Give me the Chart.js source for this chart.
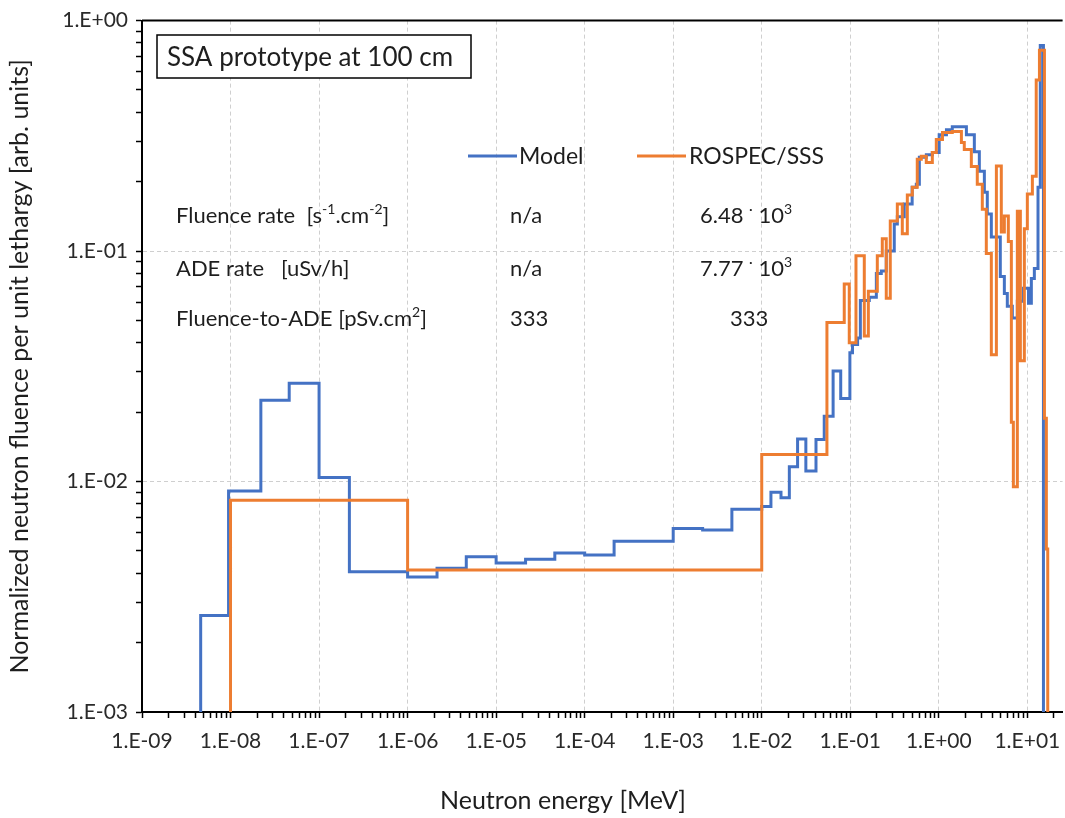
<!DOCTYPE html>
<html>
<head>
<meta charset="utf-8">
<script src="https://cdn.jsdelivr.net/npm/chart.js@4/dist/chart.umd.min.js"></script>
<style>
  html, body { margin: 0; padding: 0; background: #fff; }
  #wrap { width: 1065px; height: 818px; }
</style>
</head>
<body>
<div id="wrap"><canvas id="chart" width="1065" height="818"></canvas></div>
<script>
// Model: bin edges (MeV) and fluence per unit lethargy, one value per bin
const modelEdges = [
  4.6e-9, 9.5e-9, 2.2e-8, 4.6e-8, 1.0e-7, 2.2e-7, 1.0e-6, 2.15e-6, 4.6e-6, 1.0e-5,
  2.15e-5, 4.6e-5, 1.0e-4, 2.15e-4, 1.0e-3, 2.15e-3, 4.6e-3, 1.0e-2, 1.27e-2, 1.65e-2,
  2.05e-2, 2.54e-2, 3.15e-2, 4.1e-2, 5.08e-2, 6.4e-2, 7.8e-2, 9.9e-2, 0.106, 0.121,
  0.13, 0.164, 0.197, 0.224, 0.255, 0.314, 0.34, 0.407, 0.5, 0.557,
  0.603, 0.723, 0.845, 1.01, 1.22, 1.42, 2.05, 2.52, 2.87, 3.27,
  3.53, 3.92, 4.95, 5.5, 5.94, 6.77, 7.71, 9.0, 10.3, 11.1,
  12.0, 13.2, 14.0, 15.2
];
const modelValues = [
  2.62e-3, 9.1e-3, 2.25e-2, 2.67e-2, 1.04e-2, 4.06e-3, 3.85e-3, 4.2e-3, 4.72e-3, 4.43e-3,
  4.6e-3, 4.9e-3, 4.8e-3, 5.5e-3, 6.25e-3, 6.16e-3, 7.59e-3, 7.8e-3, 8.98e-3, 8.5e-3,
  1.16e-2, 1.53e-2, 1.11e-2, 1.52e-2, 1.92e-2, 3.02e-2, 2.29e-2, 3.62e-2, 3.93e-2, 4.2e-2,
  6.1e-2, 6.3e-2, 8.0e-2, 8.2e-2, 0.10, 0.131, 0.141, 0.16, 0.189, 0.195,
  0.255, 0.262, 0.268, 0.32, 0.336, 0.346, 0.32, 0.27, 0.222, 0.18,
  0.145, 0.115, 0.0776, 0.0655, 0.0576, 0.0512, 0.0606, 0.0689, 0.0594, 0.076,
  0.084, 0.189, 0.78
];

// ROSPEC/SSS: bin edges (MeV) and values
const rospecEdges = [
  1.0e-8, 1.0e-6, 1.0e-2, 5.45e-2, 0.0855, 0.0974, 0.116, 0.144, 0.160, 0.202,
  0.230, 0.255, 0.283, 0.340, 0.387, 0.441, 0.502, 0.571, 0.634, 0.722,
  0.845, 0.937, 1.10, 1.42, 1.80, 1.94, 2.33, 2.72, 3.10, 3.44,
  3.92, 4.47, 5.08, 5.50, 6.10, 6.60, 6.95, 7.71, 8.34, 9.25,
  10.0, 11.4, 12.6, 13.7, 15.6, 16.4, 17.0
];
const rospecValues = [
  8.3e-3, 4.13e-3, 1.31e-2, 4.9e-2, 7.2e-2, 4.0e-2, 9.55e-2, 4.28e-2, 6.69e-2, 9.55e-2,
  0.113, 0.0624, 0.135, 0.16, 0.119, 0.175, 0.189, 0.25, 0.258, 0.242,
  0.268, 0.305, 0.327, 0.33, 0.296, 0.276, 0.233, 0.195, 0.152, 0.0975,
  0.0355, 0.234, 0.121, 0.142, 0.11, 0.0181, 9.5e-3, 0.149, 0.0334, 0.125,
  0.177, 0.211, 0.552, 0.743, 0.0188, 5.1e-3
];

const xDecades = [-9, -8, -7, -6, -5, -4, -3, -2, -1, 0, 1];
const yDecades = [-3, -2, -1, 0];
const X_MIN = 1e-9, X_MAX = 25;
const Y_MIN = 1e-3, Y_MAX = 1;
const FLOOR = 1e-4; // under the axis: the histograms start and end off-chart

const FONT = 'Lato';
const BLUE = '#4472C4';
const ORANGE = '#ED7D31';
const INK = '#1e1e1e';

// histogram -> points for a 'before' stepped line
function stepPoints(edges, values) {
  const pts = [{ x: edges[0], y: FLOOR }];
  values.forEach((v, i) => pts.push({ x: edges[i], y: v }));
  pts.push({ x: edges[edges.length - 1], y: FLOOR });
  return pts;
}

function isDecade(v) {
  const l = Math.log10(v);
  return Math.abs(l - Math.round(l)) < 1e-6;
}

function fmtSci(v) {
  const e = Math.round(Math.log10(v));
  return '1.E' + (e < 0 ? '-' : '+') + String(Math.abs(e)).padStart(2, '0');
}

// 1..9 per decade, like the Excel axis
function decadeTicks(decades, max) {
  const out = [];
  decades.forEach(e => {
    for (let m = 1; m <= 9; m++) {
      const v = m * Math.pow(10, e);
      if (v <= max * 1.000001) out.push({ value: v });
    }
  });
  return out;
}

function axisOpts(decades, max) {
  return {
    type: 'logarithmic',
    afterBuildTicks: s => { s.ticks = decadeTicks(decades, max); },
    ticks: {
      autoSkip: false, maxRotation: 0, minRotation: 0,
      color: '#2a2a2a',
      font: { family: FONT, size: 21 },
      callback: v => isDecade(v) ? fmtSci(v) : ''
    },
    grid: {
      color: c => (c.tick && isDecade(c.tick.value)) ? '#cfcfcf' : 'rgba(0,0,0,0)',
      lineWidth: 1,
      tickColor: '#000',
      tickLength: 6,
      tickWidth: 1.5
    },
    border: { display: true, color: '#000', width: 2, dash: [4, 3] }
  };
}

// draws a run of text pieces, [text, raised?]
function rich(c, parts, x, y, size) {
  let cx = x;
  parts.forEach(([t, sup]) => {
    c.font = (sup ? Math.round(size * 0.62) : size) + 'px ' + FONT;
    c.fillText(t, cx, sup ? y - size * 0.4 : y);
    cx += c.measureText(t).width;
  });
}

const annotate = {
  id: 'annotate',
  afterDraw(chart) {
    const c = chart.ctx;
    const a = chart.chartArea;
    c.save();
    // top edge of the plot frame
    c.strokeStyle = '#000';
    c.lineWidth = 2;
    c.beginPath();
    c.moveTo(a.left, a.top);
    c.lineTo(a.right, a.top);
    c.stroke();

    // label box
    c.fillStyle = '#fff';
    c.fillRect(157, 35, 314, 43);
    c.lineWidth = 1.5;
    c.strokeRect(157, 35, 314, 43);
    c.fillStyle = INK;
    c.textBaseline = 'alphabetic';
    c.font = '26px ' + FONT;
    c.fillText('SSA prototype at 100 cm', 167, 66);

    // legend
    c.lineWidth = 3;
    c.strokeStyle = BLUE;
    c.beginPath(); c.moveTo(468, 156); c.lineTo(517, 156); c.stroke();
    c.strokeStyle = ORANGE;
    c.beginPath(); c.moveTo(637, 156); c.lineTo(686, 156); c.stroke();
    c.font = '23px ' + FONT;
    c.fillText('Model', 519, 164);
    c.fillText('ROSPEC/SSS', 689, 164);

    // numbers table
    const fs = 22;
    rich(c, [['Fluence rate  [s'], ['-1', true], ['.cm'], ['-2', true], [']']], 176, 223, fs);
    rich(c, [['n/a']], 510, 223, fs);
    rich(c, [['6.48 '], ['\u00B7', true], [' 10'], ['3', true]], 700, 223, fs);

    rich(c, [['ADE rate   [uSv/h]']], 176, 276, fs);
    rich(c, [['n/a']], 510, 276, fs);
    rich(c, [['7.77 '], ['\u00B7', true], [' 10'], ['3', true]], 700, 276, fs);

    rich(c, [['Fluence-to-ADE [pSv.cm'], ['2', true], [']']], 176, 326, fs);
    rich(c, [['333']], 510, 326, fs);
    rich(c, [['333']], 730, 326, fs);

    // x axis title
    c.font = '25px ' + FONT;
    c.textAlign = 'center';
    c.fillStyle = INK;
    c.fillText('Neutron energy [MeV]', 563, 809);
    c.restore();
  }
};

const xAxis = axisOpts(xDecades, X_MAX);
xAxis.min = X_MIN;
xAxis.max = X_MAX;
xAxis.position = 'bottom';
xAxis.ticks.padding = 11;
xAxis.afterFit = s => { s.height = 106; };

const yAxis = axisOpts(yDecades, Y_MAX);
yAxis.min = Y_MIN;
yAxis.max = Y_MAX;
yAxis.position = 'left';
yAxis.ticks.padding = 8;
yAxis.afterFit = s => { s.width = 142; };
yAxis.title = {
  display: true,
  text: 'Normalized neutron fluence per unit lethargy [arb. units]',
  color: INK,
  font: { family: FONT, size: 25 },
  padding: { top: 5, bottom: 0 }
};

new Chart(document.getElementById('chart').getContext('2d'), {
  type: 'line',
  data: {
    datasets: [
      {
        label: 'ROSPEC/SSS',
        data: stepPoints(rospecEdges, rospecValues),
        borderColor: ORANGE,
        borderWidth: 3,
        stepped: 'before',
        pointRadius: 0,
        fill: false,
        order: 0
      },
      {
        label: 'Model',
        data: stepPoints(modelEdges, modelValues),
        borderColor: BLUE,
        borderWidth: 3,
        stepped: 'before',
        pointRadius: 0,
        fill: false,
        order: 1
      }
    ]
  },
  options: {
    responsive: false,
    animation: false,
    layout: { padding: { top: 15, right: 1, left: 0, bottom: 0 } },
    plugins: { legend: { display: false }, tooltip: { enabled: false } },
    scales: { x: xAxis, y: yAxis }
  },
  plugins: [annotate]
});
</script>
</body>
</html>
